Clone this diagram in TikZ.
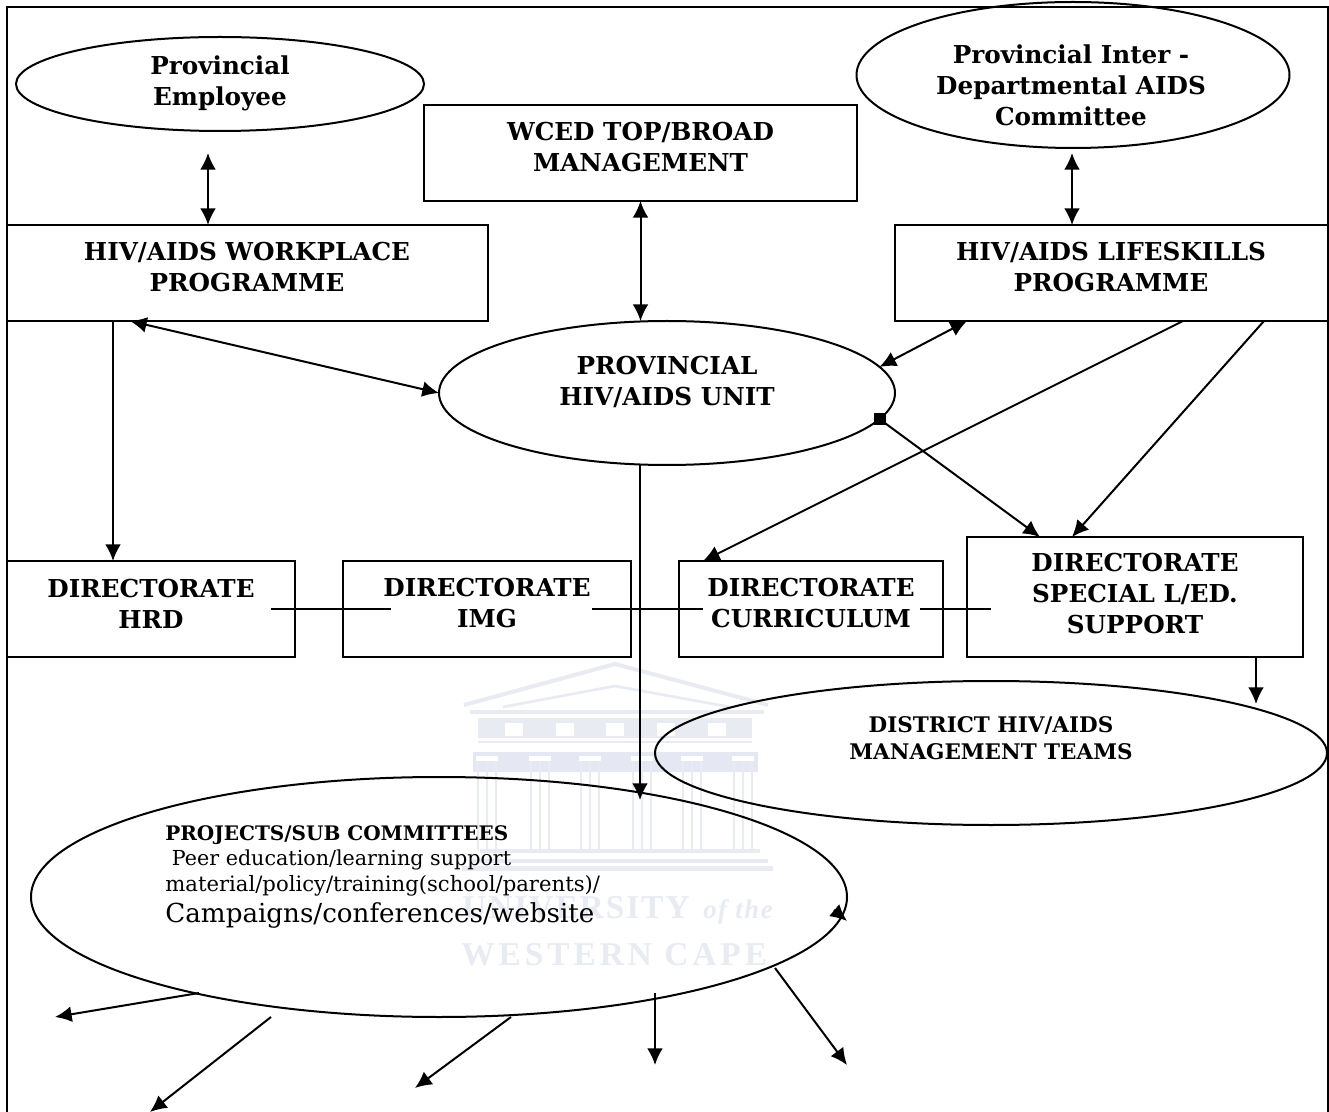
\documentclass[tikz,border=0pt]{standalone}
\usepackage{fontspec}
\setmainfont{DejaVu Serif}
\newfontfamily\wmfont[LetterSpace=6]{Liberation Serif}
\newfontfamily\wmfontsp[LetterSpace=12]{Liberation Serif}
\usetikzlibrary{shapes.geometric,arrows.meta,calc}
\definecolor{wm}{HTML}{E9EBF3}
\definecolor{wmd}{HTML}{E5E7F2}
\tikzset{
  ln/.style={line width=1.2pt,black},
  bx/.style n args={2}{draw,ln,rectangle,inner sep=0pt,outer sep=0pt,minimum width=#1*0.6pt,minimum height=#2*0.6pt},
  el/.style n args={2}{draw,ln,ellipse,inner sep=0pt,outer sep=0pt,minimum width=#1*0.6pt,minimum height=#2*0.6pt},
  lbl/.style={align=center,inner sep=0pt,font=\fontsize{14.8}{18.6}\selectfont\bfseries},
  lblsm/.style={align=center,inner sep=0pt,font=\fontsize{12.9}{16.2}\selectfont\bfseries},
  conn/.style={ln},
  arr/.style={ln,-{Latex[length=10pt,width=9.5pt]}},
  biarr/.style={ln,{Latex[length=10pt,width=9.5pt]}-{Latex[length=10pt,width=9.5pt]}},
  wmtext/.style={inner sep=0pt,text=wm}
}
\begin{document}
\begin{tikzpicture}[x=0.6pt,y=-0.6pt]
\useasboundingbox (0,0) rectangle (1329,1112);
\clip (0,0) rectangle (1329,1112);
\fill[white] (0,0) rectangle (1329,1112);
% watermark
\begin{scope}[wm,line width=2.4pt]
\draw (464,705) -- (615,664) -- (768,705);
\draw[line width=1.6pt] (503,707) -- (615,686) -- (730,707);
\draw (470,712) -- (764,712);
\fill[wm] (478,718) rectangle (752,738);
\foreach \x in {505,556,606,657,708}{\fill[white] (\x,723) rectangle (\x+18,736);}
\draw[line width=1.6pt] (478,742) -- (752,742);
\fill[wmd] (473,752) rectangle (758,772);
\foreach \x in {487,540,590,642,692,743}{
  \fill[white] (\x-11,756) rectangle (\x+11,761);
  \draw[line width=1.2pt] (\x-9,761) -- (\x-9,850) (\x,761) -- (\x,850) (\x+9,761) -- (\x+9,850);
}
\draw (480,851) -- (760,851);
\draw (472,861) -- (768,861);
\fill[wm] (462,866) rectangle (773,871);
\end{scope}
\node[wmtext,anchor=base west] (wmu) at (462,918) {\wmfont\bfseries\fontsize{20}{24}\selectfont UNIVERSITY};
\node[wmtext,anchor=base east] (wmo) at (773,918) {\wmfont\bfseries\itshape\fontsize{16}{20}\selectfont of the};
\node[wmtext,anchor=base west] (wmw) at (461,965) {\wmfontsp\bfseries\fontsize{20}{24}\selectfont WESTERN CAPE};
% frame
\draw[ln] (6.5,1130) -- (6.5,7) -- (1328,7) -- (1328,1130);
% shapes
\node[el={408}{94}] (emp) at (220,84) {};
\node[el={433}{146}] (inter) at (1073,75) {};
\node[bx={433}{96}] (wced) at (640.5,153) {};
\node[bx={481}{96}] (work) at (247.5,273) {};
\node[bx={433}{96}] (life) at (1111.5,273) {};
\node[el={456}{144}] (unit) at (667,393) {};
\node[bx={288}{96}] (hrd) at (151,609) {};
\node[bx={288}{96}] (img) at (487,609) {};
\node[bx={264}{96}] (cur) at (811,609) {};
\node[bx={336}{120}] (spec) at (1135,597) {};
\node[el={672}{144}] (dist) at (991,753) {};
\node[el={816}{240}] (proj) at (439,897) {};
% labels
\node[lbl] (empt) at (220,83) {Provincial\\Employee};
\node[lbl] (intert) at (1071,85) {Provincial Inter -\\Departmental AIDS\\Committee};
\node[lbl] (wcedt) at (640.5,147.5) {WCED TOP/BROAD\\MANAGEMENT};
\node[lbl] (workt) at (247,267.5) {HIV/AIDS WORKPLACE\\PROGRAMME};
\node[lbl] (lifet) at (1111,267.5) {HIV/AIDS LIFESKILLS\\PROGRAMME};
\node[lbl] (unitt) at (667,382) {PROVINCIAL\\HIV/AIDS UNIT};
\node[lbl] (hrdt) at (151,603.5) {DIRECTORATE\\HRD};
\node[lbl] (imgt) at (487,603.5) {DIRECTORATE\\IMG};
\node[lbl] (curt) at (811,603.5) {DIRECTORATE\\CURRICULUM};
\node[lbl] (spect) at (1135,594) {DIRECTORATE\\SPECIAL L/ED.\\SUPPORT};
\node[lblsm] (distt) at (991,738) {DISTRICT HIV/AIDS\\MANAGEMENT TEAMS};
\node[align=left,inner sep=0pt,anchor=north west] (projt) at (165,825) {%
  \fontsize{12}{15}\selectfont\bfseries PROJECTS/SUB COMMITTEES\\[3pt]
  \fontsize{12.4}{15.6}\selectfont\mdseries\ Peer education/learning support\\[2.4pt]
  \fontsize{12.7}{15.6}\selectfont\mdseries material/policy/training(school/parents)/\\[3pt]
  \fontsize{15.7}{18}\selectfont\mdseries Campaigns/conferences/website};
% connectors
\draw[biarr] ($(emp.south)+(-12,22)$) coordinate (a1) -- (a1 |- work.north);
\draw[biarr] ($(inter.south)+(-1,5)$) coordinate (a2) -- (a2 |- life.north);
\draw[biarr] (wced.south) -- (wced.south |- unit.north);
\draw[biarr] ($(work.south west)+(123,0)$) -- (unit.west);
\draw[biarr] ($(life.south west)+(72,0)$) -- (unit.7);
\draw[arr] ($(work.south west)+(106,0)$) coordinate (a3) -- (a3 |- hrd.north);
\draw[arr] (unit.-7) -- ($(spec.north west)+(73,0)$);
\fill (unit.-7) ++(-6,-6) rectangle ++(12,12);
\draw[arr] ($(life.south west)+(288,0)$) -- ($(cur.north west)+(24,0)$);
\draw[arr] ($(life.south west)+(369,0)$) -- ($(spec.north west)+(105,0)$);
\coordinate (a5) at ($(proj.center)+(201,-97)$);
\draw[arr] (a5 |- unit.south) -- (a5);
\draw[conn] ($(hrd.center)+(120,0)$) -- ($(img.center)+(-96,0)$);
\draw[conn] ($(img.center)+(105,0)$) -- ($(cur.center)+(-108,0)$);
\draw[conn] ($(cur.center)+(109,0)$) coordinate (a6) -- (a6 -| {$(spec.west)+(24,0)$});
\draw[arr] ($(spec.south west)+(289,0)$) -- ++(0,47);
% projects outputs
\coordinate (p1) at (199,993);
\coordinate (p1e) at (55,1017);
\coordinate (p2) at (271,1017);
\coordinate (p2e) at (150,1112);
\coordinate (p3) at (511,1017);
\coordinate (p3e) at (415,1088);
\coordinate (p4) at (655,993);
\coordinate (p4e) at (655,1065);
\coordinate (p5) at (775,968);
\coordinate (p5e) at (847,1065);
\coordinate (p6) at (834,910);
\coordinate (p6e) at (847,921);
\draw[arr] (p1) -- (p1e);
\draw[arr] (p2) -- (p2e);
\draw[arr] (p3) -- (p3e);
\draw[arr] (p4) -- (p4e);
\draw[arr] (p5) -- (p5e);
\draw[arr] (p6) -- (p6e);
\end{tikzpicture}
\end{document}
